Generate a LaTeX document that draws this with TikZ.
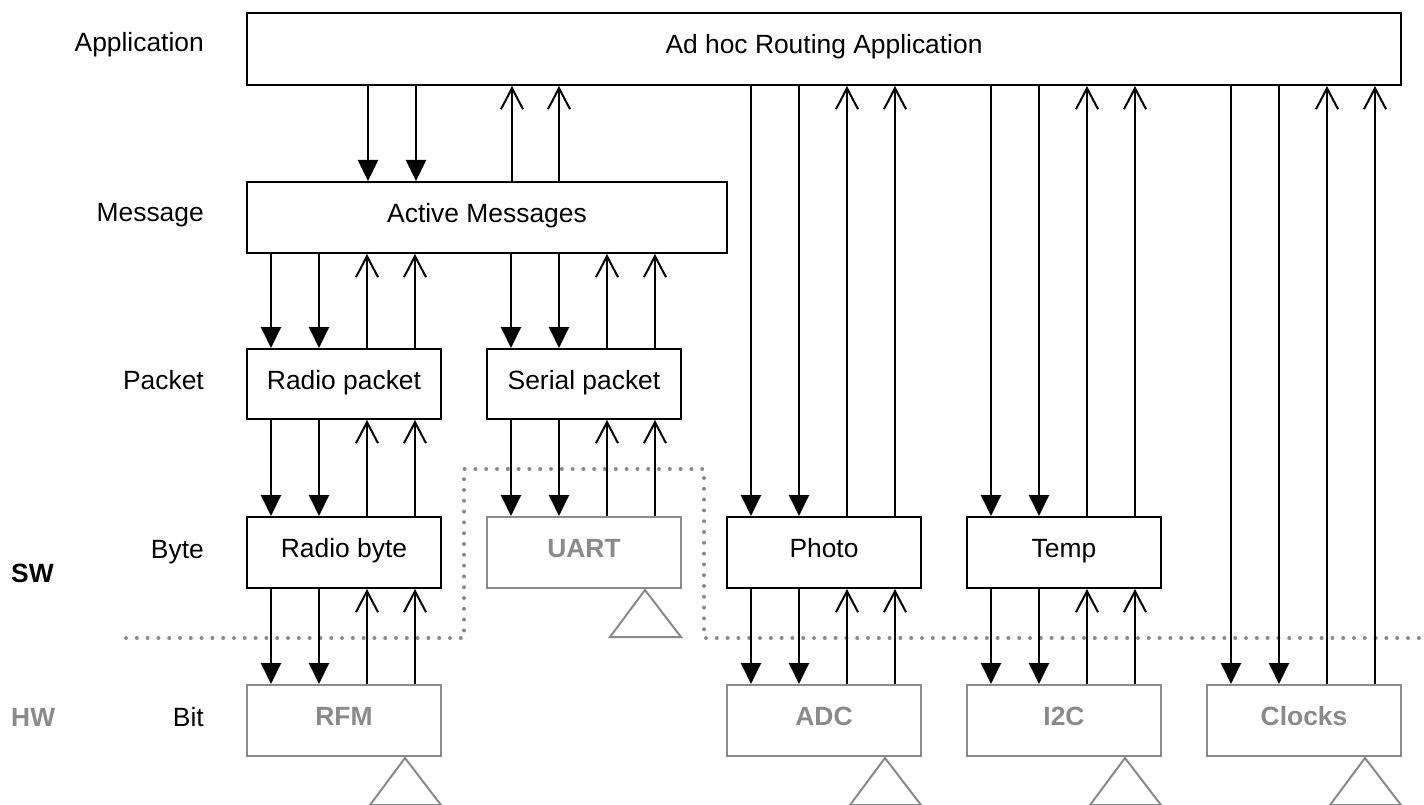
\documentclass[tikz,border=0pt]{standalone}
\usepackage{fontspec}
\setmainfont{Liberation Sans}
\usetikzlibrary{arrows.meta,calc}
\definecolor{hwgray}{HTML}{8A8A8A}
\tikzset{
  sw/.style={draw=black, line width=2pt, minimum height=71pt, inner sep=0pt,
             text height=19pt, text depth=9pt},
  hw/.style={sw, draw=hwgray, text=hwgray, font=\fontsize{26.4}{30}\selectfont\bfseries},
  layer/.style={anchor=base east, inner sep=0pt},
  dn/.style={line width=2pt, -{Triangle[width=20pt,length=21pt]}},
  upa/.style={line width=2pt, -{Straight Barb[width=22pt,length=21pt,line width=2pt]}},
  divider/.style={hwgray, line width=4pt, line cap=round, dash pattern=on 0pt off 10.8pt},
  base/.style={draw=hwgray, line width=2pt, line join=miter}
}
% down arrow from the bottom of #1 to the top of #2, #3 pt right of #2's left edge
\newcommand{\dnlink}[3]{\draw[dn] ([xshift=#3pt]#2.north west |- #1.south) -- ([xshift=#3pt]#2.north west);}
% up arrow from the top of #1 to the bottom of #2, #3 pt right of #1's left edge
\newcommand{\uplink}[3]{\draw[upa] ([xshift=#3pt]#1.north west) -- ([xshift=#3pt]#1.north west |- #2.south);}
% four connectors between two stacked boxes
\newcommand{\fourlinks}[2]{\dnlink{#1}{#2}{25}\dnlink{#1}{#2}{73}\uplink{#2}{#1}{121}\uplink{#2}{#1}{169}}
% hardware base under a box
\newcommand{\stand}[1]{\draw[base] ([xshift=-37pt,yshift=-1pt]#1.south east) -- ([xshift=-1pt,yshift=-48pt]#1.south east) -- ([xshift=-72pt,yshift=-48pt]#1.south east) -- cycle;}
\begin{document}
\begin{tikzpicture}[x=1pt,y=-1pt,font=\fontsize{26.4}{30}\selectfont]
\useasboundingbox (0,0) rectangle (1424,805);

% software / hardware boundary
\draw[divider] (126,638) -- (464,638) -- (464,469) -- (704,469) -- (704,638) -- (1424,638);

% layer names
\node[layer] (lapp) at (204,52) {Application};
\node[layer] (lmsg) at (204,222) {Message};
\node[layer] (lpkt) at (204,389) {Packet};
\node[layer] (lbyte) at (204,558) {Byte};
\node[layer] (lbit) at (204,726) {Bit};
\node[anchor=base west, inner sep=0pt, font=\fontsize{26.4}{30}\selectfont\bfseries] (sw) at (11,582) {SW};
\node[anchor=base west, inner sep=0pt, text=hwgray, font=\fontsize{26.4}{30}\selectfont\bfseries] (hw) at (11,726) {HW};

% components
\node[sw, minimum width=1154pt, minimum height=72pt] (app) at (824,49) {Ad hoc Routing Application};
\node[sw, minimum width=480pt] (am) at (487,217.5) {Active Messages};
\node[sw, minimum width=194pt, minimum height=70pt] (rp) at (344,384) {Radio packet};
\node[sw, minimum width=194pt, minimum height=70pt] (sp) at (584,384) {Serial packet};
\node[sw, minimum width=194pt] (rb) at (344,552.5) {Radio byte};
\node[hw, minimum width=194pt] (uart) at (584,552.5) {UART};
\node[sw, minimum width=194pt] (photo) at (824,552.5) {Photo};
\node[sw, minimum width=194pt] (temp) at (1064,552.5) {Temp};
\node[hw, minimum width=194pt] (rfm) at (344,720.5) {RFM};
\node[hw, minimum width=194pt] (adc) at (824,720.5) {ADC};
\node[hw, minimum width=194pt] (i2c) at (1064,720.5) {I2C};
\node[hw, minimum width=194pt] (clk) at (1304,720.5) {Clocks};

% hardware bases
\stand{uart}
\stand{rfm}
\stand{adc}
\stand{i2c}
\stand{clk}

% application <-> active messages
\dnlink{app}{am}{122}
\dnlink{app}{am}{170}
\uplink{am}{app}{266}
\uplink{am}{app}{313}

% stacks
\fourlinks{am}{rp}
\fourlinks{am}{sp}
\fourlinks{rp}{rb}
\fourlinks{sp}{uart}
\fourlinks{rb}{rfm}
\fourlinks{app}{photo}
\fourlinks{app}{temp}
\fourlinks{app}{clk}
\fourlinks{photo}{adc}
\fourlinks{temp}{i2c}
\end{tikzpicture}
\end{document}
